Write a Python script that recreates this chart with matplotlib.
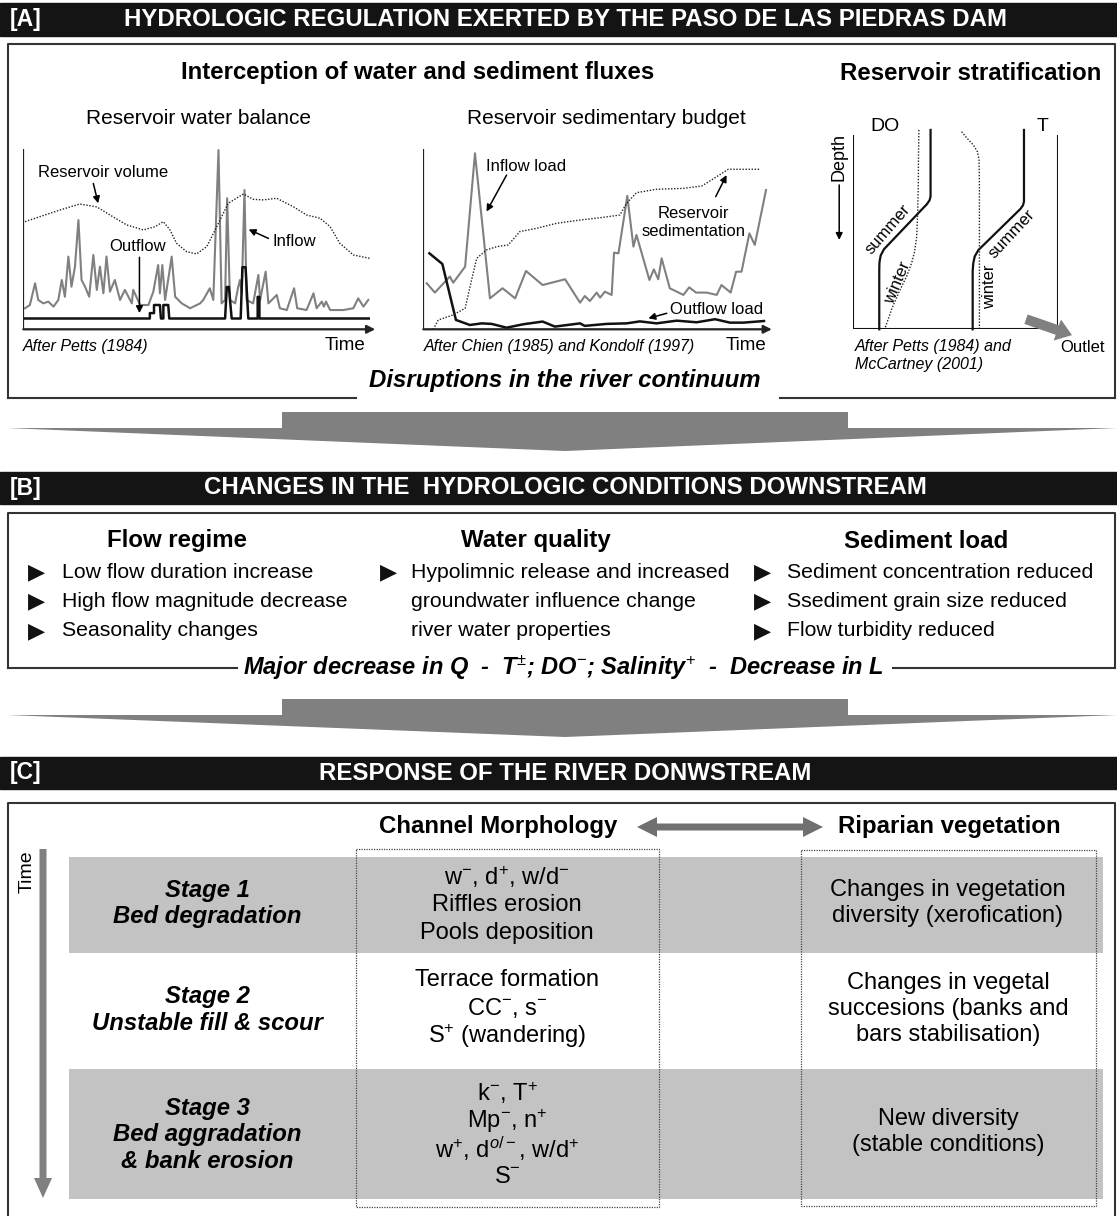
import matplotlib
matplotlib.use('Agg')
import matplotlib.pyplot as plt
from matplotlib.patches import Rectangle, Polygon

plt.rcParams['font.family'] = ['Liberation Sans', 'DejaVu Sans']
plt.rcParams['mathtext.fontset'] = 'custom'
plt.rcParams['mathtext.rm'] = 'Liberation Sans'
plt.rcParams['mathtext.it'] = 'Liberation Sans:italic'
plt.rcParams['mathtext.bf'] = 'Liberation Sans:bold'

W, H = 1117, 1216

# ---------------- reservoir water balance (time 0-100, relative 0-100)
inflow_t = [0.5, 1.9, 3.4, 4.3, 5.8, 7.2, 8.7, 10.1, 11.1, 12.0, 13.0, 13.9, 14.9,
            15.9, 16.8, 17.8, 19.0, 20.2, 21.2, 22.1, 23.1, 24.0, 25.0, 26.4, 27.9,
            29.3, 31.3, 31.7, 33.7, 36.1, 37.5, 38.9, 39.4, 40.1, 40.9, 42.8, 43.8,
            45.7, 48.1, 51.0, 51.9, 53.8, 54.8, 56.3, 57.2, 58.2, 58.8, 59.6, 61.1,
            62.0, 62.5, 63.0, 63.8, 64.4, 66.3, 67.8, 68.3, 69.9, 70.7, 73.1, 74.0,
            76.0, 78.1, 79.0, 81.7, 83.7, 84.6, 86.1, 86.7, 87.3, 88.5, 92.3, 95.2,
            96.6, 98.1, 99.5]
inflow_q = [11.7, 13.5, 25.6, 16.3, 14.4, 15.4, 12.6, 16.3, 27.4, 18.1, 40.4, 23.7, 34.8,
            60.7, 27.4, 23.7, 18.1, 41.3, 21.9, 34.8, 20.0, 40.4, 20.9, 27.4, 16.3,
            21.9, 14.4, 21.9, 13.5, 13.5, 20.9, 35.7, 20.0, 35.7, 16.3, 40.4, 18.1,
            14.4, 11.7, 14.4, 16.3, 22.8, 16.3, 99.6, 14.4, 16.3, 72.8, 16.3, 14.4,
            23.7, 27.4, 20.0, 77.4, 16.3, 14.4, 30.2, 16.3, 32.0, 14.4, 19.1, 11.7,
            10.7, 22.8, 11.7, 10.7, 20.0, 11.7, 15.4, 12.6, 15.4, 10.7, 10.7, 11.7,
            17.2, 12.6, 16.3]
outflow_t = [0, 36.5, 36.5, 37.7, 37.7, 39.4, 39.7, 40.4, 40.4, 41.8, 42.1, 58.2, 58.7,
             59.3, 60.1, 62.7, 63.2, 64.1, 64.9, 67.6, 67.6, 68.1, 68.1, 100]
outflow_q = [6, 6, 9, 9, 13.5, 13.5, 6, 6, 13.5, 13.5, 6, 6, 23.5,
             23.5, 6, 6, 34.5, 34.5, 6, 6, 18, 18, 6, 6]
volume_t = [0.5, 4.8, 10.6, 16.3, 21.2, 25.0, 29.8, 34.6, 38.0, 40.4, 42.3, 44.2, 47.1,
            50.0, 52.9, 55.8, 59.1, 63.5, 66.3, 69.2, 73.1, 77.9, 81.7, 85.6, 88.5,
            91.3, 95.2, 100]
volume_v = [59.8, 62.6, 66.3, 69.6, 68.0, 63.5, 58.0, 55.2, 57.0, 59.8, 55.2, 47.8, 43.1,
            41.9, 45.9, 57.0, 70.0, 75.2, 72.2, 71.9, 72.8, 68.1, 63.5, 61.7, 57.0,
            47.8, 41.3, 39.4]

# ---------------- reservoir sedimentary budget
sed_in_t = [1.0, 3.4, 7.8, 8.8, 12.3, 15.2, 19.6, 23.3, 27.0, 30.2, 35.1, 41.7, 46.1,
            47.5, 49.0, 51.0, 52.0, 53.4, 55.4, 56.1, 57.4, 60.0, 61.8, 62.7, 66.5,
            67.8, 69.1, 70.1, 72.5, 76.5, 78.2, 80.2, 83.3, 86.3, 87.7, 90.4, 92.0,
            93.6, 95.9, 97.5, 100.8]
sed_in_load = [25.6, 20.4, 29.3, 25.9, 34.8, 97.8, 17.2, 22.8, 17.2, 32.4, 24.6, 27.8, 14.8,
               18.5, 15.7, 20.4, 17.6, 20.9, 19.1, 42.6, 42.2, 74.1, 45.9, 52.4, 27.4,
               33.3, 27.8, 39.4, 22.8, 19.1, 23.3, 20.4, 20.4, 19.1, 24.6, 20.4, 32.0,
               32.0, 53.3, 46.9, 77.4]
sed_out_t = [1.8, 5.6, 9.6, 13.7, 17.2, 20.1, 24.5, 29.4, 35.1, 38.7, 46.1, 47.5, 53.9,
             59.8, 63.7, 68.6, 74.5, 80.4, 85.8, 90.2, 94.1, 100.2]
sed_out_load = [42.2, 36.3, 5.2, 2.4, 3.3, 3.0, 0.9, 2.8, 4.3, 1.5, 3.3, 1.9, 3.0,
                3.3, 4.4, 3.3, 4.8, 3.9, 5.6, 3.7, 3.7, 4.6]
sed_res_t = [2.9, 4.4, 8.8, 12.3, 14.2, 15.7, 18.6, 21.6, 25.0, 28.4, 33.3, 39.2, 46.1,
             52.9, 57.8, 59.8, 62.7, 68.6, 76.5, 81.9, 84.8, 89.7, 99.0]
sed_res_vol = [0.0, 5.2, 8.0, 11.7, 27.4, 39.4, 44.1, 45.9, 46.9, 54.3, 56.1, 58.9, 60.7,
               62.2, 63.5, 70.0, 75.9, 77.8, 78.3, 79.6, 83.0, 88.9, 88.9]

# ---------------- reservoir stratification (x = value, z = depth, both 0-100)
do_summer_x = [37.8, 37.8, 37.3, 36.0, 15.0, 13.4, 12.8, 12.7, 12.7]
do_summer_z = [-2.6, 31.7, 33.6, 35.6, 58.8, 62.0, 65.5, 69.5, 100]
do_winter_x = [32.1, 31.9, 31.8, 31.5, 31.0, 30.0, 28.5, 26.0, 22.8, 19.0, 15.5]
do_winter_z = [-2.6, 10.0, 24.9, 40.0, 52.3, 60.0, 66.0, 73.0, 79.8, 89.0, 99.5]
t_summer_x = [83.5, 83.5, 83.0, 81.8, 61.2, 59.4, 58.7, 58.4, 58.4]
t_summer_z = [-2.6, 34.3, 36.2, 38.0, 59.2, 62.5, 66.0, 70.0, 100]
t_winter_x = [53.0, 55.5, 58.7, 60.7, 61.5, 61.7, 61.7]
t_winter_z = [-1.7, 1.5, 5.1, 8.5, 12.5, 24.9, 100]

# ---------------- texts
flow_regime = ['Low flow duration increase', 'High flow magnitude decrease',
               'Seasonality changes']
water_quality = ['Hypolimnic release and increased\ngroundwater influence change\n'
                 'river water properties']
sediment_load = ['Sediment concentration reduced', 'Ssediment grain size reduced',
                 'Flow turbidity reduced']
stage_names = ['Stage 1\nBed degradation', 'Stage 2\nUnstable fill & scour',
               'Stage 3\nBed aggradation\n& bank erosion']
channel_morph = ['w$^{-}$, d$^{+}$, w/d$^{-}$\nRiffles erosion\nPools deposition',
                 'Terrace formation\nCC$^{-}$, s$^{-}$\nS$^{+}$ (wandering)',
                 'k$^{-}$, T$^{+}$\nMp$^{-}$, n$^{+}$\nw$^{+}$, d$^{o/-}$, w/d$^{+}$\nS$^{-}$']
riparian = ['Changes in vegetation\ndiversity (xerofication)',
            'Changes in vegetal\nsuccesions (banks and\nbars stabilisation)',
            'New diversity\n(stable conditions)']

GREY = '#808080'
LINE = '#333333'
BAND = '#c3c3c3'
HEAD = 17.3

fig = plt.figure(figsize=(W / 100, H / 100), dpi=100)
ax = fig.add_axes([0, 0, 1, 1])
ax.set_xlim(0, W)
ax.set_ylim(H, 0)
ax.axis('off')


def inset(x0, y0, x1, y1):
    a = fig.add_axes([x0 / W, 1 - y1 / H, (x1 - x0) / W, (y1 - y0) / H])
    a.axis('off')
    return a


def header(y0, y1, tag, title):
    ax.add_patch(Rectangle((0, y0), W, y1 - y0, color='#141414', zorder=1))
    yc = (y0 + y1) / 2
    ax.text(10, yc, tag, color='white', fontsize=16.5, fontweight='bold', va='center')
    ax.text(565, yc, title, color='white', fontsize=HEAD, fontweight='bold',
            ha='center', va='center')


def lines_at(x, yc, text, pitch=27, **kw):
    rows = text.split('\n')
    y0 = yc - pitch * (len(rows) - 1) / 2
    for i, r in enumerate(rows):
        ax.text(x, y0 + i * pitch, r, ha='center', va='center', **kw)


def big_arrow(ytop, ywing, ytip):
    ax.add_patch(Polygon([(282, ytop), (848, ytop), (848, ywing), (W, ywing),
                          (565, ytip), (7, ywing), (282, ywing)],
                         closed=True, color=GREY, lw=0))


# ================= section A
header(3, 36, '[A]', 'HYDROLOGIC REGULATION EXERTED BY THE PASO DE LAS PIEDRAS DAM')
ax.plot([8, 8, 1115, 1115], [398, 44, 44, 398], color=LINE, lw=1.5)
ax.plot([8, 356], [398, 398], color=LINE, lw=1.5)
ax.plot([780, 1115], [398, 398], color=LINE, lw=1.5)
ax.text(565, 381, 'Disruptions in the river continuum', fontsize=17.3,
        fontweight='bold', style='italic', ha='center', va='center')
ax.text(418, 73, 'Interception of water and sediment fluxes', fontsize=HEAD,
        fontweight='bold', ha='center', va='center')
ax.text(971, 73, 'Reservoir stratification', fontsize=HEAD, fontweight='bold',
        ha='center', va='center')
ax.text(198, 119, 'Reservoir water balance', fontsize=15, ha='center', va='center')
ax.text(606, 119, 'Reservoir sedimentary budget', fontsize=15, ha='center', va='center')
ax.text(23, 347, 'After Petts (1984)', fontsize=11.5, style='italic', va='center')
ax.text(325, 346, 'Time', fontsize=13.5, va='center')
ax.text(424, 347, 'After Chien (1985) and Kondolf (1997)', fontsize=11.5,
        style='italic', va='center')
ax.text(726, 346, 'Time', fontsize=13.5, va='center')
ax.text(855, 347, 'After Petts (1984) and', fontsize=11.5, style='italic', va='center')
ax.text(855, 365, 'McCartney (2001)', fontsize=11.5, style='italic', va='center')
ax.text(1060, 347, 'Outlet', fontsize=12, va='center')

arr = dict(arrowstyle='-|>', color='black', lw=1.1, mutation_scale=10,
           shrinkA=0, shrinkB=0)
axis_arr = dict(arrowstyle='-|>', color='#222222', lw=1.6, mutation_scale=12,
                shrinkA=0, shrinkB=0)

# water balance
a1 = inset(23.3, 149.3, 370, 329.3)
a1.set_xlim(0, 100)
a1.set_ylim(0, 100)
a1.plot(inflow_t, inflow_q, color=GREY, lw=1.5)
a1.plot(outflow_t, outflow_q, color='#111111', lw=1.8)
a1.plot(volume_t, volume_v, color='#222222', lw=1.0, ls=(0, (1, 1.2)))
a1.plot([0, 0], [0, 100], color='#222222', lw=1.6)
a1.annotate('', xy=(101.5, 0), xytext=(0, 0), arrowprops=axis_arr,
            annotation_clip=False)
a1.text(4.3, 87, 'Reservoir volume', fontsize=12, va='center')
a1.annotate('', xy=(21.6, 70), xytext=(20.2, 81), arrowprops=arr)
a1.text(33, 46, 'Outflow', fontsize=12, ha='center', va='center')
a1.annotate('', xy=(33.5, 9), xytext=(33.5, 40), arrowprops=arr)
a1.text(72, 48.5, 'Inflow', fontsize=12, va='center')
a1.annotate('', xy=(65, 55.5), xytext=(70.7, 50.5), arrowprops=arr)

# sediment budget
a2 = inset(423.3, 149.3, 763.3, 329.3)
a2.set_xlim(0, 100)
a2.set_ylim(0, 100)
a2.plot(sed_in_t, sed_in_load, color=GREY, lw=1.5, clip_on=False)
a2.plot(sed_out_t, sed_out_load, color='#111111', lw=1.8, clip_on=False)
a2.plot(sed_res_t, sed_res_vol, color='#222222', lw=1.0, ls=(0, (1, 1.2)))
a2.plot([0, 0], [0, 100], color='#222222', lw=1.6)
a2.annotate('', xy=(102.5, 0), xytext=(0, 0), arrowprops=axis_arr,
            annotation_clip=False)
a2.text(18.4, 90.4, 'Inflow load', fontsize=12, va='center')
a2.annotate('', xy=(18.6, 65.4), xytext=(24.5, 85.7), arrowprops=arr)
a2.text(79.4, 64.4, 'Reservoir', fontsize=12, ha='center', va='center')
a2.text(79.4, 54.3, 'sedimentation', fontsize=12, ha='center', va='center')
a2.annotate('', xy=(89.2, 85.7), xytext=(86, 73.7), arrowprops=arr)
a2.text(72.5, 11, 'Outflow load', fontsize=12, va='center')
a2.annotate('', xy=(66.2, 6.1), xytext=(71.6, 8.9), arrowprops=arr)

# stratification
a3 = inset(853.3, 135, 1057.7, 329.3)
a3.set_xlim(0, 100)
a3.set_ylim(100, 0)
a3.plot([0, 0, 100, 100], [0, 100, 100, 0], color='#111111', lw=1.5)
a3.plot(do_summer_x, do_summer_z, color='#111111', lw=1.6, clip_on=False)
a3.plot(do_winter_x, do_winter_z, color='#222222', lw=1.0, ls=(0, (1, 1.2)),
        clip_on=False)
a3.plot(t_summer_x, t_summer_z, color='#111111', lw=1.6, clip_on=False)
a3.plot(t_winter_x, t_winter_z, color='#222222', lw=1.0, ls=(0, (1, 1.2)),
        clip_on=False)
a3.text(15.6, -4.5, 'DO', fontsize=14, ha='center', va='center')
a3.text(92.7, -4.5, 'T', fontsize=14, ha='center', va='center')
a3.text(-6.9, 11.5, 'Depth', fontsize=13, rotation=90, ha='center', va='center')
a3.annotate('', xy=(-6.9, 54), xytext=(-6.9, 25.7), arrowprops=arr,
            annotation_clip=False)
a3.text(17.0, 48.5, 'summer', fontsize=12, rotation=49, ha='center', va='center')
a3.text(21.5, 76, 'winter', fontsize=12, rotation=67, ha='center', va='center')
a3.text(77.5, 51, 'summer', fontsize=12, rotation=47, ha='center', va='center')
a3.text(66.5, 78, 'winter', fontsize=12, rotation=90, ha='center', va='center')
a3.annotate('', xy=(107, 103), xytext=(84.5, 94.8),
            arrowprops=dict(arrowstyle='simple,head_length=0.7,head_width=1.0,tail_width=0.45',
                            color=GREY, lw=0, mutation_scale=16, shrinkA=0, shrinkB=0),
            annotation_clip=False)

big_arrow(412, 428, 451)

# ================= section B
header(472, 504, '[B]', 'CHANGES IN THE  HYDROLOGIC CONDITIONS DOWNSTREAM')
ax.plot([8, 8, 1115, 1115], [668, 513, 513, 668], color=LINE, lw=1.5)
ax.plot([8, 237], [668, 668], color=LINE, lw=1.5)
ax.plot([893, 1115], [668, 668], color=LINE, lw=1.5)
ax.text(563, 668, r'Major decrease in Q  -  T$^{\pm}$; DO$^{-}$; Salinity$^{+}$  -  Decrease in L',
        fontsize=17, fontweight='bold', style='italic', ha='center', va='center')

columns = [('Flow regime', 177, 37, 62, flow_regime),
           ('Water quality', 536, 389, 411, water_quality),
           ('Sediment load', 926, 763, 787, sediment_load)]
rows_y = [572, 601.5, 631]
for head, hx, bx, tx, items in columns:
    ax.text(hx, 541, head, fontsize=HEAD, fontweight='bold', ha='center', va='center')
    r = 0
    for item in items:
        ax.text(bx, rows_y[r], '\u25b6', fontsize=16, ha='center', va='center',
                family=['DejaVu Sans'], color='#111111')
        for line in item.split('\n'):
            ax.text(tx, rows_y[r], line, fontsize=15.3, va='center')
            r += 1

big_arrow(699, 715, 737)

# ================= section C
header(757, 789, '[C]', 'RESPONSE OF THE RIVER DONWSTREAM')
ax.plot([8, 8, 1115, 1115], [H + 5, 803, 803, H + 5], color=LINE, lw=1.5)
ax.text(498, 827, 'Channel Morphology', fontsize=HEAD, fontweight='bold',
        ha='center', va='center')
ax.text(949, 827, 'Riparian vegetation', fontsize=HEAD, fontweight='bold',
        ha='center', va='center')
ax.add_patch(Polygon([(637, 827), (657, 817), (657, 823.5), (803, 823.5), (803, 817),
                      (823, 827), (803, 837), (803, 830.5), (657, 830.5), (657, 837)],
                     closed=True, color='#707070', lw=0))

band_rows = [(857, 953), (953, 1069), (1069, 1199)]
for i, (y0, y1) in enumerate(band_rows):
    if i != 1:
        ax.add_patch(Rectangle((69, y0), 1103 - 69, y1 - y0, color=BAND, lw=0, zorder=0))

ax.add_patch(Rectangle((356, 849), 303, 358, fill=False, ls=(0, (1, 1)), lw=0.9,
                       edgecolor='#444444'))
ax.add_patch(Rectangle((801, 850), 295, 356, fill=False, ls=(0, (1, 1)), lw=0.9,
                       edgecolor='#444444'))

ax.text(27, 872, 'Time', fontsize=14, rotation=90, ha='center', va='center')
ax.add_patch(Polygon([(39.5, 849), (46.5, 849), (46.5, 1178), (52, 1178), (43, 1198),
                      (34, 1178), (39.5, 1178)], closed=True, color=GREY, lw=0))

stage_y = [903.5, 1010, 1135]
channel_y = [905, 1008, 1135]
riparian_y = [903, 1009, 1132]
for i in range(3):
    lines_at(207, stage_y[i], stage_names[i], pitch=27, fontsize=17.2,
             fontweight='bold', style='italic')
    lines_at(507, channel_y[i], channel_morph[i], pitch=28, fontsize=17)
    lines_at(948, riparian_y[i], riparian[i], pitch=26.5, fontsize=17)

fig.savefig('out.png', dpi=100)
